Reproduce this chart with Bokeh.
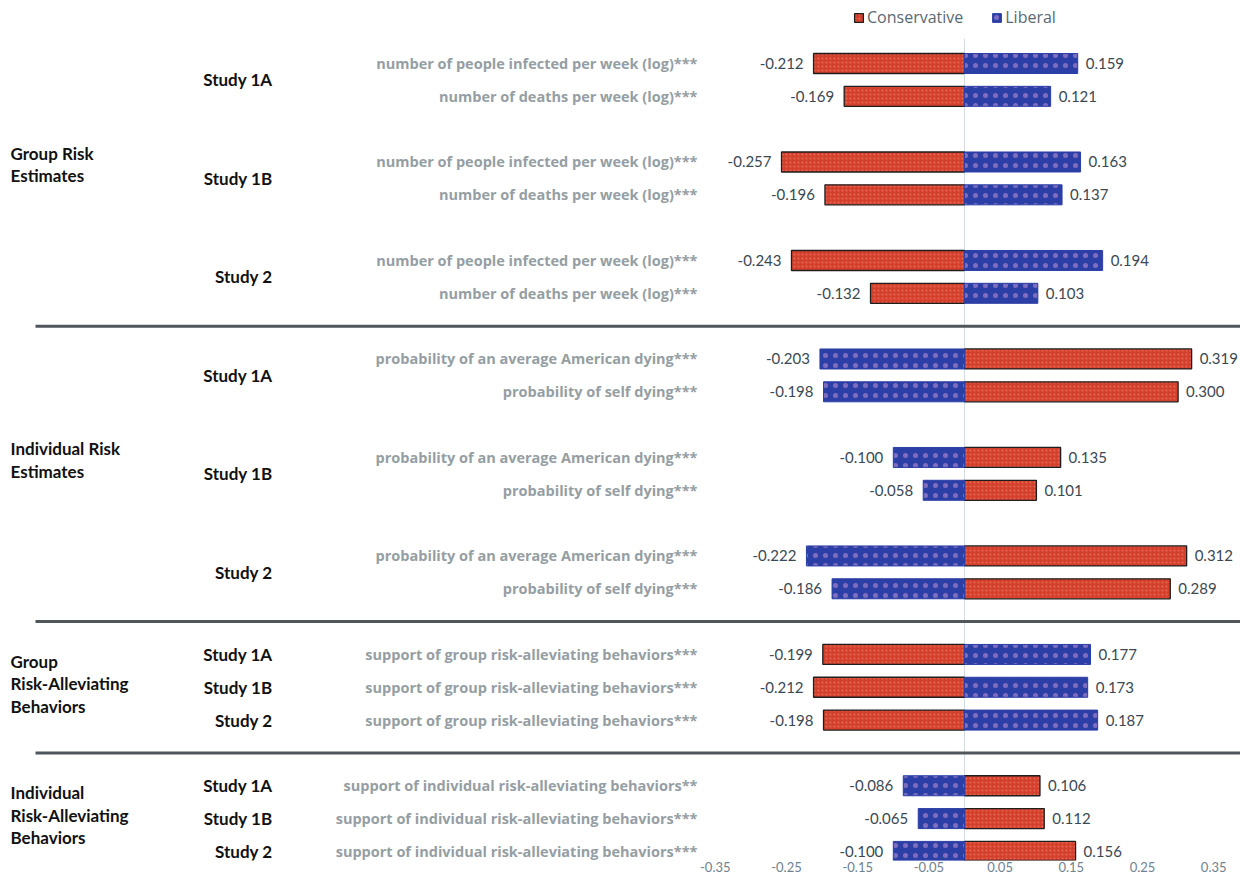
from bokeh.plotting import figure
from bokeh.models import (Range1d, ColumnDataSource, FixedTicker, PrintfTickFormatter,
                          Legend, LegendItem)
from bokeh.core.properties import value
from bokeh.embed import file_html
from bokeh.resources import INLINE

# ---------------- data ----------------
group_labels = ["Group Risk\nEstimates", "Individual Risk\nEstimates",
                "Group\nRisk-Alleviating\nBehaviors", "Individual\nRisk-Alleviating\nBehaviors"]
row_group = [0, 0, 0, 0, 0, 0, 1, 1, 1, 1, 1, 1, 2, 2, 2, 3, 3, 3]
row_study = ["Study 1A", "Study 1A", "Study 1B", "Study 1B", "Study 2", "Study 2",
             "Study 1A", "Study 1A", "Study 1B", "Study 1B", "Study 2", "Study 2",
             "Study 1A", "Study 1B", "Study 2",
             "Study 1A", "Study 1B", "Study 2"]
measures = ["number of people infected per week (log)***", "number of deaths per week (log)***",
            "number of people infected per week (log)***", "number of deaths per week (log)***",
            "number of people infected per week (log)***", "number of deaths per week (log)***",
            "probability of an average American dying***", "probability of self dying***",
            "probability of an average American dying***", "probability of self dying***",
            "probability of an average American dying***", "probability of self dying***",
            "support of group risk-alleviating behaviors***", "support of group risk-alleviating behaviors***",
            "support of group risk-alleviating behaviors***",
            "support of individual risk-alleviating behaviors**",
            "support of individual risk-alleviating behaviors***",
            "support of individual risk-alleviating behaviors***"]
conservative = [-0.212, -0.169, -0.257, -0.196, -0.243, -0.132,
                0.319, 0.300, 0.135, 0.101, 0.312, 0.289,
                -0.199, -0.212, -0.198,
                0.106, 0.112, 0.156]
liberal = [0.159, 0.121, 0.163, 0.137, 0.194, 0.103,
           -0.203, -0.198, -0.100, -0.058, -0.222, -0.186,
           0.177, 0.173, 0.187,
           -0.086, -0.065, -0.100]
x_ticks = [-0.35, -0.25, -0.15, -0.05, 0.05, 0.15, 0.25, 0.35]

# ---------------- layout (row slots) ----------------
blocks = []  # (group, study, [row indices])
for i, (g, s) in enumerate(zip(row_group, row_study)):
    if blocks and blocks[-1][0] == g and blocks[-1][1] == s:
        blocks[-1][2].append(i)
    else:
        blocks.append((g, s, [i]))

row_k = [0.0] * len(measures)
sep_k = []
k = 1
for bi, (g, s, rows) in enumerate(blocks):
    for r in rows:
        row_k[r] = k
        k += 1
    last_in_group = bi == len(blocks) - 1 or blocks[bi + 1][0] != g
    if last_in_group:
        if bi != len(blocks) - 1:
            sep_k.append(k)
            k += 1
    elif len(rows) > 1:
        k += 1

FRAME_W = 1240
FRAME_H = 860
PX_X = 712.0    # px per data unit (x)
ZERO_PX = 964
PX_Y = 32.83    # px per row
ROW1_PX = 63


def kx(px):
    return (px - ZERO_PX) / PX_X


def ky(px):
    return 1 + (px - ROW1_PX) / PX_Y


X0, X1 = kx(0), kx(FRAME_W)
Y_TOP, Y_BOT = ky(0), ky(FRAME_H)

p = figure(frame_width=FRAME_W, frame_height=FRAME_H,
           x_range=Range1d(X0, X1), y_range=Range1d(Y_BOT, Y_TOP),
           output_backend="svg", toolbar_location=None, min_border=0,
           y_axis_location=None, outline_line_color=None,
           background_fill_color="white", border_fill_color="white")
p.grid.visible = False

FONT = "Lato"

# zero line
p.segment(x0=[0], x1=[0], y0=[ky(38)], y1=[Y_BOT], line_color="#d3dbe2", line_width=1)

# separators
p.segment(x0=[kx(35)] * len(sep_k), x1=[X1] * len(sep_k), y0=sep_k, y1=sep_k,
          line_color="#4f575c", line_width=3)

src = ColumnDataSource(dict(k=row_k, cons=conservative, lib=liberal))

BAR_H = 20 / PX_Y
r_cons = p.hbar(y="k", left=0, right="cons", height=BAR_H, source=src,
                fill_color="#d4402c", line_color="#1e1e1e", line_width=1.3,
                hatch_pattern="dot", hatch_color="#ee8a78", hatch_scale=4,
                hatch_weight=1, hatch_alpha=0.55)
r_lib = p.hbar(y="k", left=0, right="lib", height=BAR_H, source=src,
               fill_color="#2b3fa6", line_color="#2b3fa6", line_width=1,
               hatch_pattern="dot", hatch_color="#b58ad0", hatch_scale=10,
               hatch_weight=0.9, hatch_alpha=0.6)

# value labels
for vals in (conservative, liberal):
    pos = [i for i, v in enumerate(vals) if v >= 0]
    neg = [i for i, v in enumerate(vals) if v < 0]
    for idx, align, off in ((pos, "left", 8), (neg, "right", -10)):
        s = ColumnDataSource(dict(x=[vals[i] for i in idx], y=[row_k[i] for i in idx],
                                  t=[f"{vals[i]:.3f}" for i in idx]))
        p.text(x="x", y="y", text="t", source=s, x_offset=off, text_align=align,
               text_baseline="middle", text_font=value(FONT), text_font_size="15px",
               text_color="#3a4852")

# measure labels
p.text(x=[kx(697)] * len(measures), y=row_k, text=measures, text_align="right",
       text_baseline="middle", text_font=value("Open Sans"), text_font_size="14.5px",
       text_font_style="bold", text_color="#959ea3")

# study labels
st_y = [sum(row_k[r] for r in rows) / len(rows) for (_, _, rows) in blocks]
p.text(x=[kx(272)] * len(blocks), y=st_y, text=[b[1] for b in blocks], text_align="right",
       text_baseline="middle", text_font=value(FONT), text_font_size="17px",
       text_font_style="bold", text_color="#111111")

# group labels
g_y = []
for gi, lab in enumerate(group_labels):
    ks = [row_k[i] for i in range(len(row_k)) if row_group[i] == gi]
    mid = (min(ks) + max(ks)) / 2
    g_y.append(mid - (0.42 if lab.count("\n") == 1 else 0.1))
p.text(x=[kx(10)] * len(group_labels), y=g_y, text=group_labels, text_align="left",
       text_baseline="middle", text_font=value(FONT), text_font_size="17px",
       text_font_style="bold", text_color="#111111", text_line_height=1.08)

# axis
ax = p.xaxis[0]
ax.ticker = FixedTicker(ticks=x_ticks)
ax.formatter = PrintfTickFormatter(format="%.2f")
ax.axis_line_color = None
ax.major_tick_line_color = None
ax.minor_tick_line_color = None
ax.major_tick_out = 0
ax.major_label_standoff = 1
ax.major_label_text_font = FONT
ax.major_label_text_font_size = "13px"
ax.major_label_text_color = "#6f8290"

# legend
legend = Legend(items=[LegendItem(label="Conservative", renderers=[r_cons]),
                       LegendItem(label="Liberal", renderers=[r_lib])],
                orientation="horizontal", location=(853, FRAME_H - 28),
                border_line_color=None, background_fill_alpha=0, padding=0, margin=0,
                spacing=28, glyph_width=11, glyph_height=11, label_standoff=3,
                label_text_font="Open Sans", label_text_font_size="16px",
                label_text_color="#5a6873", label_height=20)
p.add_layout(legend)

open("out.html", "w").write(file_html(p, INLINE))
